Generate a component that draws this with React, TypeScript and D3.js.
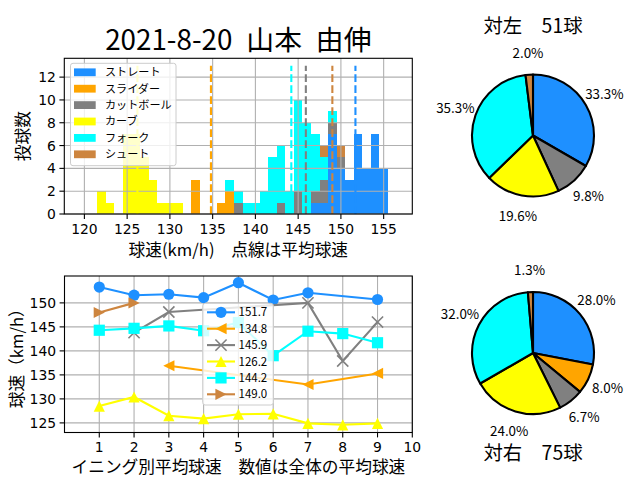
import * as d3 from "d3";

// ---- data ----
const pitchNames = ["ストレート", "スライダー", "カットボール", "カーブ", "フォーク", "シュート"];
const pitchColors = ["#1e90ff", "#ffa500", "#808080", "#ffff00", "#00ffff", "#cd853f"];
const pitchMarkers = ["circle", "tri-left", "x", "tri-up", "square", "tri-right"];

// [speed km/h, count]
const straightHist = [[147, 1], [148, 1], [149, 7], [150, 4], [151, 3], [152, 7], [153, 4], [154, 7], [155, 4]];
const sliderHist = [[133, 3], [136, 1], [137, 2]];
const cutHist = [[138, 1], [143, 1], [145, 2], [147, 1], [148, 2], [149, 1], [150, 1]];
const curveHist = [[122, 2], [123, 1], [125, 7], [126, 7], [127, 5], [128, 3], [129, 1], [130, 1], [131, 1]];
const forkHist = [[137, 1], [138, 1], [139, 1], [140, 1], [141, 2], [142, 5], [143, 5], [144, 2], [145, 8], [146, 8], [147, 5], [148, 2], [149, 1]];
const shootHist = [[148, 1], [150, 1]];
const histSeries = [straightHist, sliderHist, cutHist, curveHist, forkHist, shootHist];

const meanSpeeds = [151.7, 134.8, 145.9, 126.2, 144.2, 149.0];
const meanLabels = ["151.7", "134.8", "145.9", "126.2", "144.2", "149.0"];

const innings = [1, 2, 3, 4, 5, 6, 7, 8, 9];
const straightByInning = [153.3, 151.6, 151.8, 151.1, 154.2, 150.6, 152.1, null, 150.7];
const sliderByInning = [null, null, 136.9, null, null, null, 133.0, null, 135.3];
const cutByInning = [null, 143.8, 148.1, null, null, null, 150.0, 137.9, 146.0];
const curveByInning = [128.5, 130.4, 126.5, 125.9, 126.8, 126.9, 124.9, 124.6, 124.9];
const forkByInning = [144.3, 144.7, 145.2, 144.2, 145.9, 139.0, 144.1, 143.6, 141.7];
const shootByInning = [148.0, 150.0, null, null, null, null, null, null, null];
const inningSeries = [straightByInning, sliderByInning, cutByInning, curveByInning, forkByInning, shootByInning];

const vsLeftCounts = [17, 0, 5, 10, 18, 1];
const vsRightCounts = [21, 6, 5, 18, 24, 1];

const histXTicks = [120, 125, 130, 135, 140, 145, 150, 155];
const histYTicks = [0, 2, 4, 6, 8, 10, 12];
const lineXTicks = [1, 2, 3, 4, 5, 6, 7, 8, 9, 10];
const lineYTicks = [125, 130, 135, 140, 145, 150];

const JP = "'Noto Sans CJK JP', sans-serif";
const TICKF = "'DejaVu Sans', sans-serif";
const GRID = "#b0b0b0";

function Marker({ kind, x, y, color }: { kind: string; x: number; y: number; color: string }) {
  const s = 5.6;
  if (kind === "circle") return <circle cx={x} cy={y} r={s} fill={color} />;
  if (kind === "square") return <rect x={x - s} y={y - s} width={2 * s} height={2 * s} fill={color} />;
  if (kind === "x")
    return (
      <path d={`M${x - s},${y - s}L${x + s},${y + s}M${x - s},${y + s}L${x + s},${y - s}`}
        stroke={color} strokeWidth={1.6} fill="none" />
    );
  let pts: number[][] = [];
  if (kind === "tri-up") pts = [[0, -s], [-s, s], [s, s]];
  if (kind === "tri-left") pts = [[-s, 0], [s, -s], [s, s]];
  if (kind === "tri-right") pts = [[s, 0], [-s, -s], [-s, s]];
  return <polygon points={pts.map(p => `${x + p[0]},${y + p[1]}`).join(" ")} fill={color} />;
}

function Histogram() {
  const L = 64.3, R = 412.3, T = 58.3, B = 214;
  const x = d3.scaleLinear().domain([117.65, 158.35]).range([L, R]);
  const y = d3.scaleLinear().domain([0, 13.65]).range([B, T]);

  // stacked bars
  const base = new Map<number, number>();
  const bars: JSX.Element[] = [];
  histSeries.forEach((series, i) => {
    series.forEach(([sp, c]) => {
      const b = base.get(sp) || 0;
      bars.push(
        <rect key={`${i}-${sp}`} x={x(sp - 0.5)} width={x(sp + 0.5) - x(sp - 0.5)}
          y={y(b + c)} height={y(b) - y(b + c)} fill={pitchColors[i]} shapeRendering="crispEdges" />
      );
      base.set(sp, b + c);
    });
  });

  return (
    <g>
      {bars}
      {histXTicks.map(t => <line key={"gx" + t} x1={x(t)} x2={x(t)} y1={T} y2={B} stroke={GRID} strokeWidth={1.1} />)}
      {histYTicks.map(t => <line key={"gy" + t} x1={L} x2={R} y1={y(t)} y2={y(t)} stroke={GRID} strokeWidth={1.1} />)}
      {meanSpeeds.map((m, i) => (
        <line key={"m" + i} x1={x(m)} x2={x(m)} y1={y(0)} y2={y(13)} stroke={pitchColors[i]}
          strokeWidth={2.1} strokeDasharray="7.7,3.3" />
      ))}
      <rect x={L} y={T} width={R - L} height={B - T} fill="none" stroke="#000" strokeWidth={1.1} />
      {histXTicks.map(t => (
        <g key={"tx" + t}>
          <line x1={x(t)} x2={x(t)} y1={B} y2={B + 4.9} stroke="#000" strokeWidth={1.1} />
          <text x={x(t)} y={B + 19.5} textAnchor="middle" fontFamily={TICKF} fontSize={13.9}>{t}</text>
        </g>
      ))}
      {histYTicks.map(t => (
        <g key={"ty" + t}>
          <line x1={L - 4.9} x2={L} y1={y(t)} y2={y(t)} stroke="#000" strokeWidth={1.1} />
          <text x={L - 8.4} y={y(t)} dy="0.36em" textAnchor="end" fontFamily={TICKF} fontSize={13.9}>{t}</text>
        </g>
      ))}
      {/* legend */}
      <rect x={70.5} y={63.3} width={105.5} height={102.4} rx={2.5} fill="#fff" fillOpacity={0.8} stroke="#cccccc" strokeWidth={1} />
      {pitchNames.map((n, i) => {
        const cy = 72.3 + i * 16.4;
        return (
          <g key={"lg" + n}>
            <rect x={74} y={cy - 3.9} width={21.7} height={7.8} fill={pitchColors[i]} />
            <text x={105} y={cy} dy="0.36em" fontFamily={JP} fontSize={11.1}>{n}</text>
          </g>
        );
      })}
      <text x={(L + R) / 2} y={256} textAnchor="middle" fontFamily={JP} fontSize={16.7}>球速(km/h)　点線は平均球速</text>
      <text transform={`translate(29,${(T + B) / 2}) rotate(-90)`} textAnchor="middle" fontFamily={JP} fontSize={16.7}>投球数</text>
      <text x={(L + R) / 2} y={50} textAnchor="middle" fontFamily={JP} fontSize={27.8}>{"2021-8-20\u2002山本\u2002由伸"}</text>
    </g>
  );
}

function InningChart() {
  const L = 64.5, R = 412.3, T = 276, B = 432.5;
  const x = d3.scaleLinear().domain([0, 10]).range([L, R]);
  const y = d3.scaleLinear().domain([123.0, 155.6]).range([B, T]);
  const line = d3.line<[number, number]>().x(d => x(d[0])).y(d => y(d[1]));

  return (
    <g>
      {lineXTicks.map(t => <line key={"gx" + t} x1={x(t)} x2={x(t)} y1={T} y2={B} stroke={GRID} strokeWidth={1.1} />)}
      {lineYTicks.map(t => <line key={"gy" + t} x1={L} x2={R} y1={y(t)} y2={y(t)} stroke={GRID} strokeWidth={1.1} />)}
      {inningSeries.map((s, i) => {
        const pts = innings.map((inn, k) => [inn, s[k]] as [number, number | null])
          .filter(p => p[1] !== null) as [number, number][];
        return (
          <g key={"s" + i}>
            <path d={line(pts) || ""} fill="none" stroke={pitchColors[i]} strokeWidth={2.1} />
            {pts.map(p => <Marker key={p[0]} kind={pitchMarkers[i]} x={x(p[0])} y={y(p[1])} color={pitchColors[i]} />)}
          </g>
        );
      })}
      <rect x={L} y={T} width={R - L} height={B - T} fill="none" stroke="#000" strokeWidth={1.1} />
      {lineXTicks.map(t => (
        <g key={"tx" + t}>
          <line x1={x(t)} x2={x(t)} y1={B} y2={B + 4.9} stroke="#000" strokeWidth={1.1} />
          <text x={x(t)} y={B + 19.5} textAnchor="middle" fontFamily={TICKF} fontSize={13.9}>{t}</text>
        </g>
      ))}
      {lineYTicks.map(t => (
        <g key={"ty" + t}>
          <line x1={L - 4.9} x2={L} y1={y(t)} y2={y(t)} stroke="#000" strokeWidth={1.1} />
          <text x={L - 8.4} y={y(t)} dy="0.36em" textAnchor="end" fontFamily={TICKF} fontSize={13.9}>{t}</text>
        </g>
      ))}
      {/* legend */}
      <rect x={202.7} y={303.3} width={70.6} height={101.7} rx={2.5} fill="#fff" fillOpacity={0.8} stroke="#cccccc" strokeWidth={1} />
      {meanLabels.map((lab, i) => {
        const cy = 312.3 + i * 16.4;
        return (
          <g key={"ll" + i}>
            <line x1={207} x2={235} y1={cy} y2={cy} stroke={pitchColors[i]} strokeWidth={2.1} />
            <Marker kind={pitchMarkers[i]} x={221} y={cy} color={pitchColors[i]} />
            <text x={238.5} y={cy} dy="0.36em" fontFamily={JP} fontSize={11.5}>{lab}</text>
          </g>
        );
      })}
      <text x={(L + R) / 2} y={473} textAnchor="middle" fontFamily={JP} fontSize={16.7}>イニング別平均球速　数値は全体の平均球速</text>
      <text transform={`translate(23,${(T + B) / 2}) rotate(-90)`} textAnchor="middle" fontFamily={JP} fontSize={16.7}>球速（km/h）</text>
    </g>
  );
}

function Pie({ counts, cx, cy, title, titleY }: { counts: number[]; cx: number; cy: number; title: string; titleY: number }) {
  const r = 61;
  const total = d3.sum(counts);
  const arcs = d3.pie<number>().sort(null).startAngle(0).endAngle(2 * Math.PI)(counts);
  const arc = d3.arc<d3.PieArcDatum<number>>().innerRadius(0).outerRadius(r);
  const labelR = r * 1.35;
  return (
    <g>
      <g transform={`translate(${cx},${cy})`}>
        {arcs.filter(a => a.value > 0).map((a, i) => (
          <path key={i} d={arc(a) || ""} fill={pitchColors[a.index]} stroke="#000" strokeWidth={2.1} strokeLinejoin="round" />
        ))}
        {arcs.filter(a => a.value > 0).map((a, i) => {
          const m = (a.startAngle + a.endAngle) / 2;
          return (
            <text key={"t" + i} x={Math.sin(m) * labelR} y={-Math.cos(m) * labelR} dy="0.34em"
              textAnchor="middle" fontFamily={JP} fontSize={13.4}>
              {((a.value / total) * 100).toFixed(1) + "%"}
            </text>
          );
        })}
      </g>
      <text x={cx} y={titleY} textAnchor="middle" fontFamily={JP} fontSize={19.4}>{title}</text>
    </g>
  );
}

export default function App() {
  return (
    <svg width={640} height={480} style={{ position: "absolute", left: 0, top: 0, background: "#fff" }}>
      <rect width={640} height={480} fill="#fff" />
      <Histogram />
      <InningChart />
      <Pie counts={vsLeftCounts} cx={533} cy={135.5} title="対左　51球" titleY={33} />
      <Pie counts={vsRightCounts} cx={533} cy={353} title="対右　75球" titleY={460} />
    </svg>
  );
}
